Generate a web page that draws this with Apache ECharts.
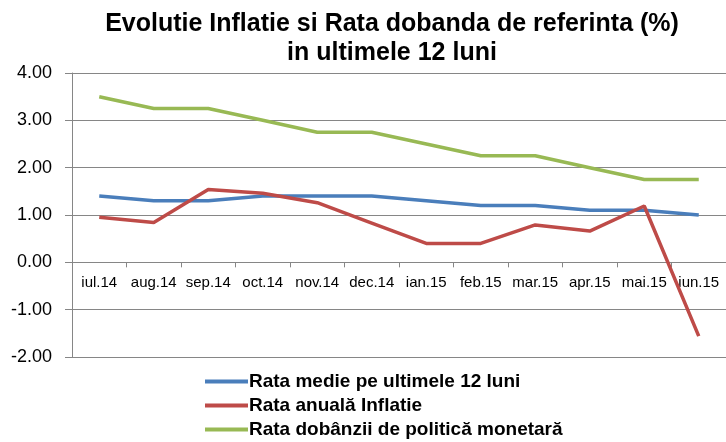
<!DOCTYPE html>
<html>
<head>
<meta charset="utf-8">
<script src="https://cdn.jsdelivr.net/npm/echarts@6/dist/echarts.min.js"></script>
<style>
  html, body { margin: 0; padding: 0; background: #fff; }
  #chart { width: 726px; height: 442px; }
</style>
</head>
<body>
<div id="chart"></div>
<script>
// luni (iul.14 - iun.15)
const months = ['iul.14', 'aug.14', 'sep.14', 'oct.14', 'nov.14', 'dec.14',
  'ian.15', 'feb.15', 'mar.15', 'apr.15', 'mai.15', 'iun.15'];

const rataMedie = [1.40, 1.30, 1.30, 1.40, 1.40, 1.40, 1.30, 1.20, 1.20, 1.10, 1.10, 1.00];
const rataAnuala = [0.95, 0.84, 1.54, 1.46, 1.26, 0.83, 0.40, 0.40, 0.79, 0.66, 1.19, -1.56];
const rataDobanzii = [3.50, 3.25, 3.25, 3.00, 2.75, 2.75, 2.50, 2.25, 2.25, 2.00, 1.75, 1.75];

const seriesNames = ['Rata medie pe ultimele 12 luni', 'Rata anuală Inflatie', 'Rata dobânzii de politică monetară'];
const colors = ['#4a7ebb', '#be4b48', '#98b954'];

const FONT = 'Liberation Sans, Arial, sans-serif';
const chart = echarts.init(document.getElementById('chart'));

const lineSeries = (name, data, color) => ({
  name: name,
  type: 'line',
  data: data,
  symbol: 'none',
  lineStyle: { color: color, width: 3.5 },
  itemStyle: { color: color }
});

// one legend per row, so they stack exactly like the original
const legendRow = (name, top) => ({
  orient: 'horizontal',
  left: 200,
  top: top,
  icon: 'rect',
  itemWidth: 43,
  itemHeight: 4,
  itemGap: 0,
  data: [name],
  textStyle: {
    fontFamily: FONT,
    fontWeight: 'bold',
    fontSize: 19,
    color: '#000',
    padding: [0, 0, 0, -4]
  }
});

chart.setOption({
  animation: false,
  title: {
    text: 'Evolutie Inflatie si Rata dobanda de referinta (%)\nin ultimele 12 luni',
    left: 387,
    top: 5,
    textAlign: 'center',
    textStyle: {
      fontFamily: FONT,
      fontWeight: 'bold',
      fontSize: 25,
      lineHeight: 29,
      color: '#000'
    }
  },
  legend: [
    legendRow(seriesNames[0], 367),
    legendRow(seriesNames[1], 391),
    legendRow(seriesNames[2], 415)
  ],
  grid: { left: 72, top: 73, width: 662, height: 284 },
  xAxis: {
    type: 'category',
    data: months,
    boundaryGap: true,
    position: 'bottom',
    offset: -94.67,
    axisLine: { onZero: false, lineStyle: { color: '#868686', width: 1 } },
    axisTick: { show: true, interval: 0, length: 5, lineStyle: { color: '#868686' } },
    axisLabel: {
      interval: 0,
      margin: 13,
      fontFamily: FONT,
      fontSize: 15,
      color: '#000'
    }
  },
  yAxis: {
    type: 'value',
    min: -2,
    max: 4,
    interval: 1,
    axisLine: { show: true, lineStyle: { color: '#868686', width: 1 } },
    axisTick: { show: true, length: 7, lineStyle: { color: '#868686' } },
    splitLine: { show: true, lineStyle: { color: '#868686', width: 1 } },
    axisLabel: {
      margin: 20,
      fontFamily: FONT,
      fontSize: 18,
      color: '#000',
      formatter: v => v.toFixed(2)
    }
  },
  series: [
    lineSeries(seriesNames[0], rataMedie, colors[0]),
    lineSeries(seriesNames[1], rataAnuala, colors[1]),
    lineSeries(seriesNames[2], rataDobanzii, colors[2])
  ]
});
</script>
</body>
</html>
